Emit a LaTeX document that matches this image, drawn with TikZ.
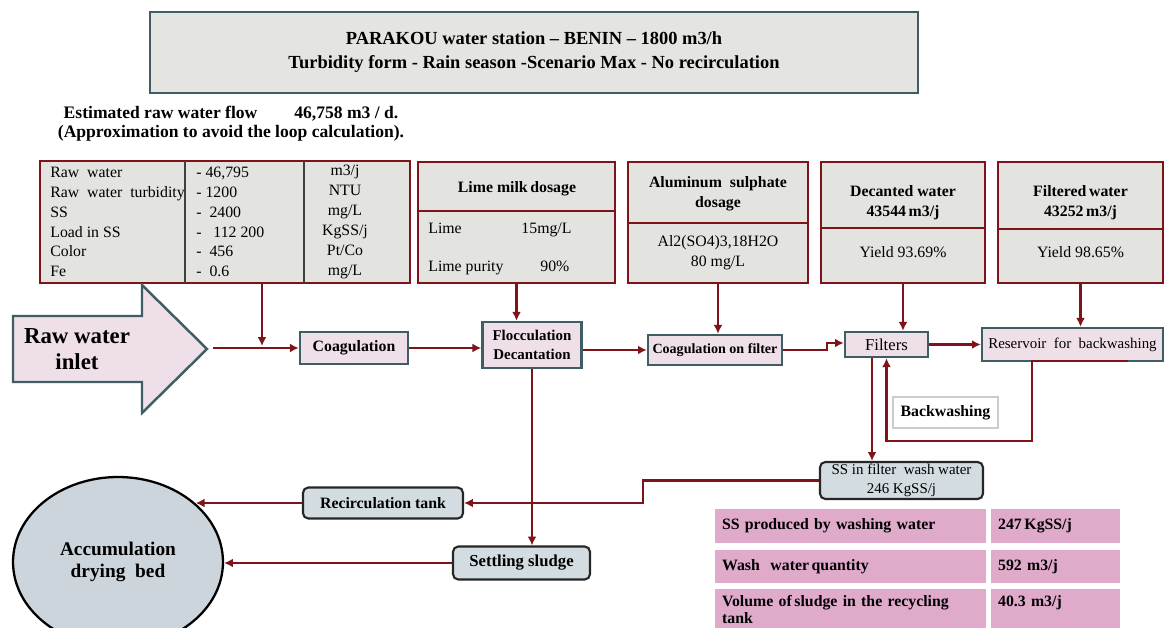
\documentclass[tikz,border=0pt]{standalone}
\usepackage{fontspec}
\setmainfont{Liberation Serif}
\usepackage{xcolor}
\usetikzlibrary{arrows.meta, positioning, shapes.geometric}
\definecolor{pipered}{HTML}{7D1419}
\definecolor{tankteal}{HTML}{3F5E64}
\definecolor{tankpink}{HTML}{EFDFE8}
\definecolor{datagray}{HTML}{E3E3E0}
\definecolor{titlegray}{HTML}{E4E4E0}
\definecolor{sludgeblue}{HTML}{D3DCE1}
\definecolor{bedblue}{HTML}{CBD5DB}
\definecolor{sumpink}{HTML}{E0AACB}

\begin{document}
\begin{tikzpicture}[
      x=0.02cm, y=-0.02cm,
      every node/.style={inner sep=0pt, font=\fontsize{9}{11.3}\selectfont},
      databox/.style={draw=pipered, line width=1.6pt, fill=datagray, minimum height=2.42cm},
      divider/.style={draw=pipered, line width=1.2pt},
      colline/.style={draw=black!75, line width=0.9pt},
      head/.style={align=center, font=\fontsize{9}{11.3}\selectfont\bfseries},
      stage/.style={draw=tankteal, line width=1.4pt, fill=tankpink, align=center, font=\fontsize{9}{10.5}\selectfont\bfseries},
      sludge/.style={draw=black!85, line width=1.2pt, rounded corners=3pt, fill=sludgeblue, align=center},
      cell/.style={draw=white, line width=1.5pt, fill=sumpink, anchor=north west, align=left, inner xsep=5pt, font=\fontsize{9}{10}\selectfont\bfseries},
      sumlabel/.style={cell, minimum width=5.48cm, text width=5.13cm},
      sumvalue/.style={cell, minimum width=2.64cm, text width=2.29cm},
      flow/.style={-{Latex[length=5pt,width=5pt]}, line width=1.6pt, draw=pipered}
    ]
      \fill[white] (0,0) rectangle (1167,628);
      \useasboundingbox (0,0) rectangle (1167,628);

      \node[draw=tankteal, line width=1.6pt, fill=titlegray, minimum width=15.36cm, minimum height=1.62cm, align=center, font=\fontsize{10.5}{13.6}\selectfont\bfseries] (title) at (534,52.5) {PARAKOU water station – BENIN – 1800 m3/h\\Turbidity form - Rain season -Scenario Max - No recirculation};
      \node[align=center, font=\fontsize{10}{11}\selectfont\bfseries] (flowest) at (231,124) {Estimated raw water flow\hspace{21pt}46,758 m3 / d.\\(Approximation\ to avoid the loop calculation).};

      \node[databox, minimum width=7.4cm, minimum height=2.44cm] (rawdata) at (225,222) {};
      \draw[colline] (185,161) -- (185,283);
      \draw[colline] (304,161) -- (304,283);
      \node[anchor=west, align=left] (rawnames) at (50,222) {Raw\ \ water\\Raw\ \ water\ \ turbidity\\SS\\Load in SS\\Color\\Fe};
      \node[anchor=west, align=left] (rawvalues) at (196,222) {- 46,795\\- 1200\\- \ 2400\\- \ \ 112 200\\- \ 456\\- \ 0.6};
      \node[align=center] (rawunits) at (345,222) {m3/j\\NTU\\mg/L\\KgSS/j\\Pt/Co\\mg/L};

      \node[databox, minimum width=3.94cm] (lime) at (516.5,222.5) {};
      \draw[divider] (418,211) -- (615,211);
      \node[head] (limehead) at (517,189) {Lime milk\,dosage};
      \node[anchor=west, align=left, font=\fontsize{9}{21.5}\selectfont] (limebody) at (428,249) {Lime\hspace{34pt}15mg/L\\Lime purity\hspace{21pt}90\%};

      \node[databox, minimum width=3.6cm] (alum) at (718,222.5) {};
      \draw[divider] (628,223) -- (808,223);
      \node[head] (alumhead) at (718,193.5) {Aluminum\ \ sulphate\\dosage};
      \node[align=center] (alumbody) at (718,253) {Al2(SO4)3,18H2O\\80 mg/L};

      \node[databox, minimum width=3.28cm] (decanted) at (903,222.5) {};
      \draw[divider] (821,228) -- (985,228);
      \node[head] (decantedhead) at (903,203) {Decanted water\\43544\,m3/j};
      \node (decantedbody) at (903,252) {Yield 93.69\%};

      \node[databox, minimum width=3.3cm] (filtered) at (1080.5,222.5) {};
      \draw[divider] (998,229) -- (1163,229);
      \node[head] (filteredhead) at (1080.5,203) {Filtered\,water\\43252\,m3/j};
      \node (filteredbody) at (1080.5,252) {Yield 98.65\%};

      \draw[tankteal, line width=1.4pt, fill=tankpink] (13,316) -- (142,316) -- (142,285) -- (207,349) -- (142,413) -- (142,382) -- (13,382) -- cycle;
      \node[align=center, font=\fontsize{13}{15}\selectfont\bfseries] (inlet) at (77,349) {Raw water\\inlet};
      \coordinate (inletout) at (213,348);
      \coordinate (dosein) at (262,346);

      \node[stage, minimum width=2.16cm, minimum height=0.64cm] (coag) at (354,348) {Coagulation};
      \node[stage, minimum width=1.98cm, minimum height=0.92cm, font=\fontsize{8.5}{10.5}\selectfont\bfseries] (flocc) at (532,345) {Flocculation\\Decantation};
      \node[stage, minimum width=2.68cm, minimum height=0.6cm, font=\fontsize{8}{10}\selectfont\bfseries] (coagfilt) at (715,350) {Coagulation on filter};
      \node[stage, minimum width=1.66cm, minimum height=0.5cm, font=\fontsize{9.5}{11}\selectfont] (filters) at (886.5,344.5) {Filters};
      \node[stage, minimum width=3.62cm, minimum height=0.66cm, font=\fontsize{8.5}{10}\selectfont] (reservoir) at (1072.5,344.5) {Reservoir\ \ for\ \ backwashing};

      \draw[flow] (inletout) -- (coag.west);
      \draw[flow] (rawdata.south -| dosein) -- (dosein);
      \draw[flow] (coag.east) -- (coag.east -| flocc.west);
      \draw[flow] (lime.south) -- (lime.south |- flocc.north);
      \draw[flow] (flocc.east |- coagfilt) -- (coagfilt.west);
      \draw[flow] (alum.south) -- (alum.south |- coagfilt.north);
      \coordinate (filtstep) at (827,343);
      \draw[flow] (coagfilt.east) -| (filtstep) -- (filtstep -| filters.west);
      \draw[flow] (decanted.south) -- (decanted.south |- filters.north);
      \draw[flow] (filters.east) -- (filters.east -| reservoir.west);
      \draw[flow] (filtered.south) -- (filtered.south |- reservoir.north);

      \node[draw=black!20, line width=0.8pt, fill=white, minimum width=2.1cm, minimum height=0.62cm, font=\fontsize{9}{11}\selectfont\bfseries] (bwlabel) at (945.5,412.5) {Backwashing};
      \coordinate (washout) at (1128,361);
      \coordinate (washturn) at (1032,441);
      \draw[flow] (washout) -| (washturn) -| (filters.south);

      \node[sludge, minimum width=3.26cm, minimum height=0.74cm, font=\fontsize{8.5}{10.5}\selectfont] (sswash) at (901.5,480.5) {SS in filter\ \ wash\ water\\246 KgSS/j};
      \coordinate (sstap) at (872,0);
      \draw[flow] (filters.south -| sstap) -- (sswash.north -| sstap);

      \node[sludge, minimum width=3.2cm, minimum height=0.62cm, font=\fontsize{9}{11}\selectfont\bfseries] (recirc) at (383,503) {Recirculation tank};
      \node[sludge, minimum width=2.74cm, minimum height=0.66cm, font=\fontsize{9.5}{11}\selectfont\bfseries] (settling) at (521.5,563) {Settling sludge};
      \node[ellipse, draw=black, line width=1.3pt, fill=bedblue, minimum width=4.2cm, minimum height=3.4cm, align=center, font=\fontsize{11}{13}\selectfont\bfseries] (dryingbed) at (118,562) {Accumulation\\drying\ \ bed};

      \coordinate (recjog) at (643,503);
      \draw[flow] (sswash.west) -| (recjog) -- (recirc.east);
      \draw[flow] (recirc.west) -- (recirc.west -| dryingbed.37);
      \draw[flow] (flocc.south) -- (flocc.south |- settling.north);
      \draw[flow] (settling.west) -- (settling.west -| dryingbed.east);

      \node[sumlabel, minimum height=0.74cm] (sumss) at (712,506) {SS\ produced\ by\ washing\ water};
      \node[sumvalue, minimum height=0.74cm] (sumssval) at (988,506) {247\,KgSS/j};
      \node[sumlabel, minimum height=0.72cm] (sumwash) at (712,547) {Wash\ \ water\,quantity};
      \node[sumvalue, minimum height=0.72cm] (sumwashval) at (988,547) {592 m3/j};
      \node[sumlabel, minimum height=0.88cm] (sumvol) at (712,586) {Volume\ of\,sludge\ in\ the\ recycling\\tank};
      \node[sumvalue, minimum height=0.88cm] (sumvolval) at (988,586) {40.3 m3/j\\\mbox{}};
    \end{tikzpicture}
\end{document}
